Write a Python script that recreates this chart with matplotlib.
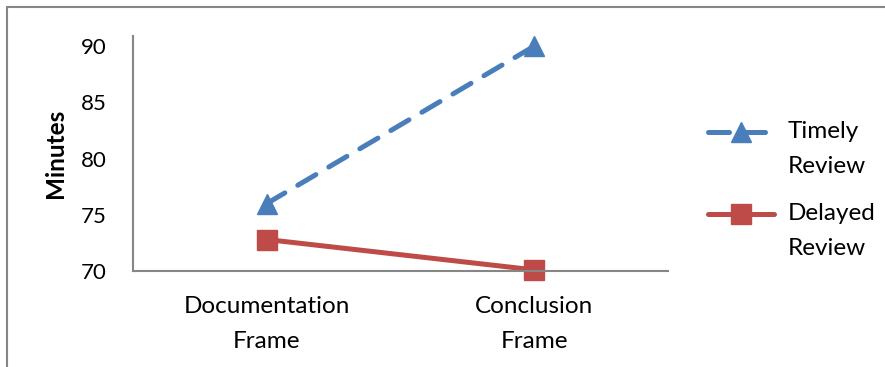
import matplotlib
matplotlib.use("Agg")
import matplotlib.pyplot as plt
from matplotlib.patches import Rectangle
from matplotlib.legend_handler import HandlerLine2D

categories = ["Documentation\nFrame", "Conclusion\nFrame"]
timely = [76.0, 90.0]
delayed = [72.8, 70.1]
series_names = ["Timely\nReview", "Delayed\nReview"]

plt.rcParams['font.family'] = ['Lato', 'DejaVu Sans']


class TopHandler(HandlerLine2D):
    # put the legend handle next to the first text line, like Excel does
    def create_artists(self, legend, orig_handle, xdescent, ydescent,
                       width, height, fontsize, trans):
        arts = super().create_artists(legend, orig_handle, xdescent, ydescent,
                                      width, height, fontsize, trans)
        for a in arts:
            a.set_ydata([y + 12 for y in a.get_ydata()])
        return arts


fig = plt.figure(figsize=(8.85, 3.67), dpi=100)
# outer chart frame (cropped at right and bottom)
fig.patches.append(Rectangle((7/885, -0.1), 1.2, 1 - 7/367 + 0.1, transform=fig.transFigure,
                             fill=False, edgecolor='#868686', linewidth=1.5))

ax = fig.add_axes([133/885, 1 - 271/367, (668-133)/885, (271-36)/367])
x = range(len(categories))
ax.plot(x, timely, color='#4A7EBB', linestyle=(0, (4.2, 3.0)), dash_capstyle='round',
        linewidth=3.6, marker='^', markersize=15, label=series_names[0], clip_on=False)
ax.plot(x, delayed, color='#BE4B48', linewidth=3.6, solid_capstyle='round',
        marker='s', markersize=14, label=series_names[1], clip_on=False)

ax.set_xlim(-0.5, 1.5)
ax.set_ylim(70, 90.9)
ax.set_yticks([70, 75, 80, 85, 90])
ax.set_xticks(list(x))
ax.set_xticklabels(categories, fontsize=17.5, linespacing=1.8)
ax.tick_params(axis='y', labelsize=16, length=0, pad=19)
ax.tick_params(axis='x', length=0, pad=18)
for s in ['top', 'right']:
    ax.spines[s].set_visible(False)
for s in ['left', 'bottom']:
    ax.spines[s].set_color('#868686')
    ax.spines[s].set_linewidth(1.5)
ax.set_ylabel("Minutes", fontsize=17.5, fontweight='bold', labelpad=10)

h, l = ax.get_legend_handles_labels()
leg = fig.legend(h, l, loc='upper left', bbox_to_anchor=(708/885, 1 - 121/367), frameon=False,
                 fontsize=17.5, handlelength=2.7, labelspacing=1.1, handletextpad=0.57,
                 borderpad=0, borderaxespad=0,
                 handler_map={matplotlib.lines.Line2D: TopHandler()})
for t in leg.get_texts():
    t.set_linespacing(1.8)

fig.savefig("out.png", dpi=100)
